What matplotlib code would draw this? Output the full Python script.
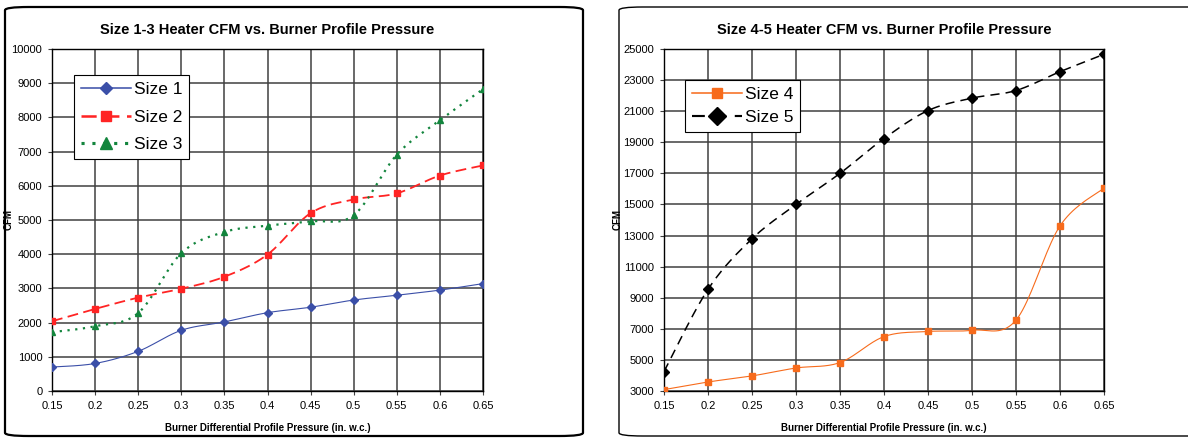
import numpy as np
import matplotlib
matplotlib.use("Agg")
import matplotlib.pyplot as plt
from matplotlib.patches import FancyBboxPatch

plt.rcParams['font.family'] = ['Liberation Sans', 'DejaVu Sans']

# data
pressure = [0.15, 0.2, 0.25, 0.3, 0.35, 0.4, 0.45, 0.5, 0.55, 0.6, 0.65]
size1 = [700, 805, 1160, 1775, 2020, 2290, 2450, 2660, 2800, 2950, 3140]
size2 = [2040, 2400, 2730, 2990, 3340, 3990, 5200, 5600, 5780, 6300, 6595]
size3 = [1720, 1895, 2280, 4030, 4650, 4835, 4960, 5140, 6910, 7915, 8825]
size4 = [3090, 3580, 3970, 4480, 4830, 6500, 6830, 6910, 7560, 13620, 16050]
size5 = [4250, 9540, 12790, 15000, 17000, 19240, 21040, 21840, 22330, 23540, 24660]
xtick_labels = ['0.15', '0.2', '0.25', '0.3', '0.35', '0.4', '0.45', '0.5', '0.55', '0.6', '0.65']


def smooth(x, y, n=20):
    # excel-style smoothed line: bezier segments, control points from neighbours
    x = np.asarray(x, float)
    y = np.asarray(y, float)
    px, py = [], []
    m = len(x)
    for i in range(m - 1):
        i0 = max(i - 1, 0)
        i3 = min(i + 2, m - 1)
        c1x = x[i] + (x[i + 1] - x[i0]) / 6
        c1y = y[i] + (y[i + 1] - y[i0]) / 6
        c2x = x[i + 1] - (x[i3] - x[i]) / 6
        c2y = y[i + 1] - (y[i3] - y[i]) / 6
        t = np.linspace(0, 1, n, endpoint=(i == m - 2))
        a = (1 - t) ** 3
        b = 3 * (1 - t) ** 2 * t
        c = 3 * (1 - t) * t ** 2
        d = t ** 3
        px.extend(a * x[i] + b * c1x + c * c2x + d * x[i + 1])
        py.extend(a * y[i] + b * c1y + c * c2y + d * y[i + 1])
    return px, py


def draw(ax, x, y, color, ls, lw, marker, ms, label, dashes=None):
    sx, sy = smooth(x, y)
    line, = ax.plot(sx, sy, color=color, ls=ls, lw=lw, zorder=3)
    if dashes:
        line.set_dashes(dashes)
    ax.plot(x, y, ls='none', marker=marker, ms=ms, color=color, zorder=4)
    h, = ax.plot([], [], color=color, ls=ls, lw=lw * 1.4, marker=marker, ms=ms * 1.6, label=label)
    if dashes:
        h.set_dashes(dashes)
    return h


def style(ax, title, ymin, ymax, ystep, ylab_x):
    ax.set_xlim(0.15, 0.65)
    ax.set_ylim(ymin, ymax)
    ax.set_xticks(pressure)
    ax.set_xticklabels(xtick_labels)
    ax.set_yticks(np.arange(ymin, ymax + 1, ystep))
    ax.grid(True, color='#404040', lw=1.1)
    ax.set_axisbelow(True)
    for s in ax.spines.values():
        s.set_color('black')
        s.set_linewidth(1.0)
    ax.tick_params(labelsize=8, length=3, width=0.8, color='#404040', pad=4)
    ax.set_title(title, fontsize=10.5, fontweight='bold', pad=11)
    ax.set_xlabel('Burner Differential Profile Pressure (in. w.c.)', fontsize=7, fontweight='bold', labelpad=9)
    ax.set_ylabel('CFM', fontsize=7, fontweight='bold')
    ax.yaxis.set_label_coords(ylab_x, 0.5)


fig = plt.figure(figsize=(11.88, 4.38), dpi=100)

# rounded panel frames
fig.patches.append(FancyBboxPatch((5 / 1188, 2 / 438), 578 / 1188, 429 / 438,
                                  boxstyle='round,pad=0,rounding_size=0.02',
                                  transform=fig.transFigure, fill=False, ec='black', lw=1.6,
                                  mutation_aspect=438 / 1188))
fig.patches.append(FancyBboxPatch((619 / 1188, 2 / 438), 600 / 1188, 429 / 438,
                                  boxstyle='round,pad=0,rounding_size=0.02',
                                  transform=fig.transFigure, fill=False, ec='black', lw=1.0,
                                  mutation_aspect=438 / 1188))

ax1 = fig.add_axes([52 / 1188, 1 - 391 / 438, 431 / 1188, 342 / 438])
ax2 = fig.add_axes([664 / 1188, 1 - 391 / 438, 440 / 1188, 342 / 438])

style(ax1, 'Size 1-3 Heater CFM vs. Burner Profile Pressure', 0, 10000, 1000, -0.09)
style(ax2, 'Size 4-5 Heater CFM vs. Burner Profile Pressure', 3000, 25000, 2000, -0.093)

h1 = draw(ax1, pressure, size1, '#3B4FA8', '-', 0.8, 'D', 4, 'Size 1')
h2 = draw(ax1, pressure, size2, '#FF2424', '--', 1.3, 's', 4.5, 'Size 2', dashes=(6, 3))
h3 = draw(ax1, pressure, size3, '#13853D', ':', 1.6, '^', 5, 'Size 3', dashes=(1, 2.5))
leg1 = ax1.legend(handles=[h1, h2, h3], loc='upper left', bbox_to_anchor=(0.051, 0.924),
                  fontsize=12.5, handlelength=2.9, handletextpad=0.15, borderpad=0.4,
                  labelspacing=0.72, fancybox=False, framealpha=1, edgecolor='black', borderaxespad=0)
leg1.get_frame().set_linewidth(0.8)

h4 = draw(ax2, pressure, size4, '#F76B1C', '-', 0.8, 's', 4.5, 'Size 4')
h5 = draw(ax2, pressure, size5, 'black', '--', 1.1, 'D', 5.5, 'Size 5', dashes=(6, 4))
leg2 = ax2.legend(handles=[h4, h5], loc='upper left', bbox_to_anchor=(0.048, 0.909),
                  fontsize=12.5, handlelength=2.9, handletextpad=0.15, borderpad=0.4,
                  labelspacing=0.45, fancybox=False, framealpha=1, edgecolor='black', borderaxespad=0)
leg2.get_frame().set_linewidth(0.8)

fig.savefig('out.png', dpi=100)
